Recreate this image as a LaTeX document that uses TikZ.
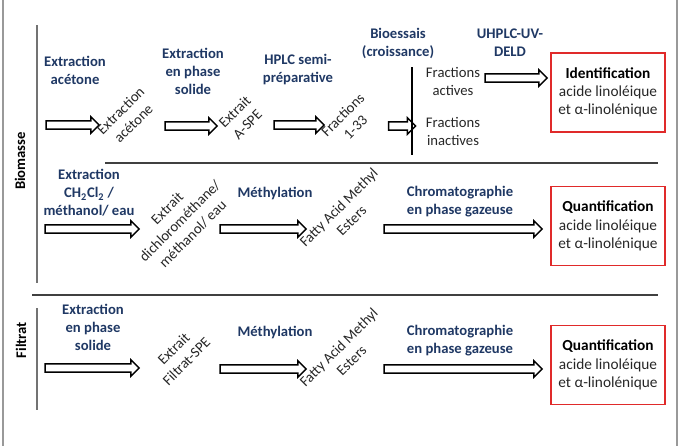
\documentclass[tikz,border=0pt]{standalone}
\usepackage{fontspec}
\setmainfont{Carlito}
\usetikzlibrary{shapes.arrows}
\definecolor{lblue}{HTML}{1F3864}
\definecolor{tgray}{HTML}{262626}
\definecolor{bred}{HTML}{E02A2A}
\newcommand{\shaftstrut}{\vrule width 0pt height 2.6pt depth 2.6pt}
\begin{document}
\begin{tikzpicture}[x=0.75pt,y=-0.75pt,
 lbl/.style={font=\fontsize{11}{13.5}\selectfont\bfseries, text=lblue, align=center, inner sep=0pt},
 rot/.style={font=\fontsize{11}{13.5}\selectfont, text=tgray, align=center, rotate=45, inner sep=0pt},
 plain/.style={font=\fontsize{11}{13.5}\selectfont, text=tgray, align=center, inner sep=0pt},
 sect/.style={font=\fontsize{11}{13.5}\selectfont\bfseries, text=black, rotate=90, inner sep=0pt},
 res/.style={draw=bred, line width=1pt, minimum width=85.5pt, minimum height=59.25pt, align=center, font=\fontsize{11.5}{13.7}\selectfont, text=tgray},
 blk/.style={single arrow, draw=black, fill=white, line width=1.1pt, inner xsep=0pt, inner ysep=0pt, single arrow head extend=3pt, minimum height=#1*0.75pt},
 sepline/.style={draw=black!75, line width=1.1pt},
 grayline/.style={draw=black!55, line width=0.8pt}
]
\useasboundingbox (0,0) rectangle (681,446);
% outer frame
\draw[draw=black!40, line width=1.2pt] (3,0) -- (3,446);
\draw[draw=black!40, line width=1.2pt] (677,0) -- (677,446);

% section labels and lines
\node[sect] (bio) at (20,161) {Biomasse};
\node[sect] (fil) at (21,340) {Filtrat};
\coordinate (v1t) at (37,25); \coordinate (v1b) at (37,283);
\draw[grayline] (v1t) -- (v1b);
\coordinate (v2t) at (37,308); \coordinate (v2b) at (37,410);
\draw[grayline] (v2t) -- (v2b);
\coordinate (h1a) at (105,163); \coordinate (h1b) at (658,163);
\draw[sepline] (h1a) -- (h1b);
\coordinate (h2a) at (32,295); \coordinate (h2b) at (658,295);
\draw[sepline] (h2a) -- (h2b);

% Row 1
\node[lbl] (l11) at (75,70) {Extraction\\acétone};
\node[blk=53] (a1) at (70.5,125) {\shaftstrut};
\node[rot] (r11) at (127,117) {Extraction\\acétone};
\node[lbl] (l12) at (193,71) {Extraction\\en phase\\solide};
\node[blk=52] (a2) at (189,126) {\shaftstrut};
\node[rot] (r12) at (241,118) {Extrait\\A-SPE};
\node[lbl] (l13) at (298,70) {HPLC semi-\\préparative};
\node[blk=50] (a3) at (297,125) {\shaftstrut};
\node[rot] (r13) at (349,121) {Fractions\\1-33};
\node[lbl] (l14) at (398,43) {Bioessais\\(croissance)};
\node[blk=27] (a4) at (400,126) {\shaftstrut};
\coordinate (vt) at (412,67); \coordinate (vb) at (412,155);
\draw[draw=black, line width=1.4pt] (vt) -- (vb);
\node[plain] (fa) at (453,81) {Fractions\\actives};
\node[plain] (fi) at (453,131) {Fractions\\inactives};
\node[lbl] (l15) at (510,43) {UHPLC-UV-\\DELD};
\node[blk=62] (a5) at (514,78) {\shaftstrut};
\node[res] (id) at (608,92.5) {\textcolor{black}{\textbf{Identification}}\\acide linoléique\\et α-linolénique};

% Row 2
\node[lbl] (l21) at (89,193) {Extraction\\CH\textsubscript{2}Cl\textsubscript{2} /\\méthanol/ eau};
\node[blk=94] (b1) at (90,229) {\shaftstrut};
\node[rot] (r21) at (180,221) {Extrait\\dichlorométhane/\\méthanol/ eau};
\node[lbl] (l22) at (275,193) {Méthylation};
\node[blk=86] (b2) at (261,229) {\shaftstrut};
\node[rot] (r22) at (345,214) {Fatty Acid Methyl\\Esters};
\node[lbl] (l23) at (460,202) {Chromatographie\\en phase gazeuse};
\node[blk=158] (b3) at (461,229) {\shaftstrut};
\node[res] (q1) at (608,226) {\textcolor{black}{\textbf{Quantification}}\\acide linoléique\\et α-linolénique};

% Row 3
\node[lbl] (l31) at (93,327) {Extraction\\en phase\\solide};
\node[blk=94] (c1) at (90,368) {\shaftstrut};
\node[rot] (r31) at (180,355) {Extrait\\Filtrat-SPE};
\node[lbl] (l32) at (275,332) {Méthylation};
\node[blk=86] (c2) at (261,369) {\shaftstrut};
\node[rot] (r32) at (345,354) {Fatty Acid Methyl\\Esters};
\node[lbl] (l33) at (460,341) {Chromatographie\\en phase gazeuse};
\node[blk=158] (c3) at (461,369) {\shaftstrut};
\node[res] (q2) at (608,365) {\textcolor{black}{\textbf{Quantification}}\\acide linoléique\\et α-linolénique};
\end{tikzpicture}
\end{document}
